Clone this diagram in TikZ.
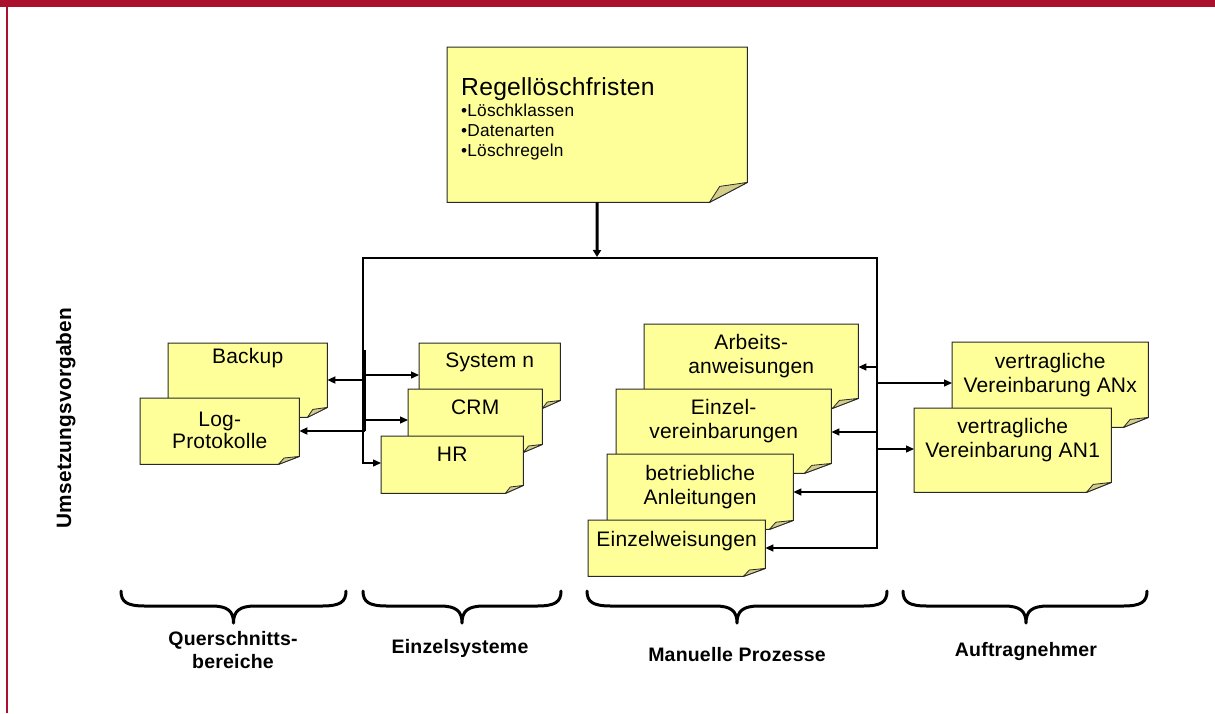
\documentclass[tikz,border=0pt]{standalone}
\usepackage{fontspec}
\setmainfont{Liberation Sans}[LetterSpace=1]
\usetikzlibrary{arrows.meta,calc}
\definecolor{framered}{RGB}{170,16,45}
\definecolor{paperc}{RGB}{255,255,153}
\definecolor{foldc}{RGB}{212,206,138}
\definecolor{edgec}{RGB}{40,40,40}
\tikzset{
 notebox/.style={rectangle, draw=none, inner sep=0pt, anchor=north west},
 paperfill/.style={fill=paperc, draw=edgec, line width=1pt, line join=miter},
 foldfill/.style={fill=foldc, draw=edgec, line width=0.8pt, line join=round},
 notetext/.style={inner sep=0pt, align=center, font=\fontsize{21}{24}\selectfont, anchor=north},
 arr/.style={line width=1.3pt, -{Triangle[length=8pt,width=7pt]}},
 busthick/.style={line width=2.6pt, line join=miter},
 busthin/.style={line width=1.4pt},
 groupbr/.style={line width=3pt, line cap=round, line join=round},
 grouplabel/.style={inner sep=0pt, align=center, font=\bfseries\fontsize{19.5}{23}\selectfont},
}
\newcommand\stickynote[9]{%
 \node[notebox, minimum width={#4-#2}, minimum height={#5-#3}] (#1) at (#2,#3) {};
 \filldraw[paperfill] (#1.north west) -- (#1.north east) -- ([yshift=#7pt]#1.south east) -- ([xshift=-#6pt]#1.south east) -- (#1.south west) -- cycle;
 \filldraw[foldfill] ([xshift=-#6pt]#1.south east) -- ([xshift={-0.73*#6pt}, yshift={0.8*#7pt}]#1.south east) -- ([yshift=#7pt]#1.south east) -- cycle;
 \node[notetext] (#1-text) at ([yshift={-#8pt}]#1.north) {#9};
}
\newcommand\groupbrace[3]{%
 \draw[groupbr] (#1,591) .. controls (#1,602) and (#1+6,606) .. (#1+24,606) -- (#2-22,606) .. controls (#2-6,606) and (#2,611) .. (#2,623) .. controls (#2,611) and (#2+6,606) .. (#2+22,606) -- (#3-24,606) .. controls (#3-6,606) and (#3,602) .. (#3,591);
}
\begin{document}
\begin{tikzpicture}[x=1pt,y=-1pt]
\useasboundingbox (0,0) rectangle (1215,713);
\fill[framered] (0,0) rectangle (1215,7);
\fill[framered] (6,0) rectangle (8,713);

% main note
\node[notebox, minimum width=300, minimum height=155] (regel) at (447,47) {};
\filldraw[paperfill] (regel.north west) -- (regel.north east) -- ([yshift=20pt]regel.south east) -- ([xshift=-38pt]regel.south east) -- (regel.south west) -- cycle;
\filldraw[foldfill] ([xshift=-38pt]regel.south east) -- ([xshift=-27.7pt,yshift=16pt]regel.south east) -- ([yshift=20pt]regel.south east) -- cycle;
\node[inner sep=0pt, anchor=north west, font=\fontsize{24.7}{28}\selectfont] (regel-title) at ([xshift=14pt,yshift=-30.3pt]regel.north west) {Regellöschfristen};
\node[inner sep=0pt, anchor=north west, align=left, font=\fontsize{17.3}{20}\selectfont] (regel-list) at ([xshift=14pt,yshift=-56.6pt]regel.north west) {•Löschklassen\\•Datenarten\\•Löschregeln};

% notes
\stickynote{backup}{168}{343}{327}{417}{20}{10}{5}{Backup}
\stickynote{log}{140}{398}{299}{464}{21}{8}{14}{Log-\\[-2pt]Protokolle}
\stickynote{sysn}{419}{343}{560}{408}{18}{8}{10}{System n}
\stickynote{crm}{408}{389}{542}{452}{19}{8}{11}{CRM}
\stickynote{hr}{381}{436}{523}{493}{18}{8}{11}{HR}
\stickynote{arb}{644}{324}{858}{408}{26}{10}{10}{Arbeits-\\anweisungen}
\stickynote{einzv}{616}{389}{831}{473}{27}{10}{10}{Einzel-\\vereinbarungen}
\stickynote{betr}{607}{454}{793}{529}{24}{9}{11}{betriebliche\\Anleitungen}
\stickynote{einzw}{588}{520}{765}{576}{22}{8}{11}{Einzelweisungen}
\stickynote{anx}{952}{342}{1148}{427}{25}{10}{11}{vertragliche\\Vereinbarung ANx}
\stickynote{an1}{914}{408}{1111}{492}{25}{10}{10}{vertragliche\\Vereinbarung AN1}

% bus coordinates
\coordinate (busL) at (363,258);
\coordinate (busM) at (597,257);
\coordinate (busR) at (877,258);
\coordinate (lTop) at (365,350);
\coordinate (lBK) at (365,380);
\coordinate (lLG) at (365,431);
\coordinate (lSN) at (363,375);
\coordinate (lCR) at (363,420);
\coordinate (lHR) at (363,463);
\coordinate (rAR) at (877,367);
\coordinate (rANx) at (877,383);
\coordinate (rEV) at (877,432);
\coordinate (rAN1) at (877,449);
\coordinate (rBA) at (877,492);
\coordinate (rEW) at (877,548);

% trunk and buses
\draw[line width=3pt, -{Triangle[length=7pt,width=8pt]}] (regel.south) -- (busM);
\draw[busthick, line cap=rect] (busL) -- (busR) -- (rBA);
\draw[busthick] (lTop) -- (lLG);
\draw[busthin, -{Triangle[length=8pt,width=7pt]}] (busL) -- (lHR) -- (lHR -| hr.west);
\draw[busthin, -{Triangle[length=8pt,width=7pt]}] (rBA) -- (rEW) -- (rEW -| einzw.east);

% arrows
\draw[arr, line width=1.8pt] (lBK) -- (lBK -| backup.east);
\draw[arr, line width=1.8pt] (lLG) -- (lLG -| log.east);
\draw[arr] (lSN) -- (lSN -| sysn.west);
\draw[arr] (lCR) -- (lCR -| crm.west);
\draw[arr] (rAR) -- (rAR -| arb.east);
\draw[arr] (rEV) -- (rEV -| einzv.east);
\draw[arr] (rBA) -- (rBA -| betr.east);
\draw[arr] (rANx) -- (rANx -| anx.west);
\draw[arr] (rAN1) -- (rAN1 -| an1.west);

% braces
\groupbrace{121}{233.5}{346}
\groupbrace{363}{462}{561}
\groupbrace{587}{737}{887}
\groupbrace{903}{1026}{1147}

% labels
\node[grouplabel, anchor=north] (lbl-quer) at (233,631) {Querschnitts-\\bereiche};
\node[grouplabel, anchor=base] (lbl-einz) at (460,653) {Einzelsysteme};
\node[grouplabel, anchor=base] (lbl-man) at (737,661) {Manuelle Prozesse};
\node[grouplabel, anchor=base] (lbl-auf) at (1026,656) {Auftragnehmer};
\node[inner sep=0pt, rotate=90, anchor=base, font=\bfseries\fontsize{20.8}{22}\selectfont] (lbl-ums) at (71,418) {Umsetzungsvorgaben};
\end{tikzpicture}
\end{document}
